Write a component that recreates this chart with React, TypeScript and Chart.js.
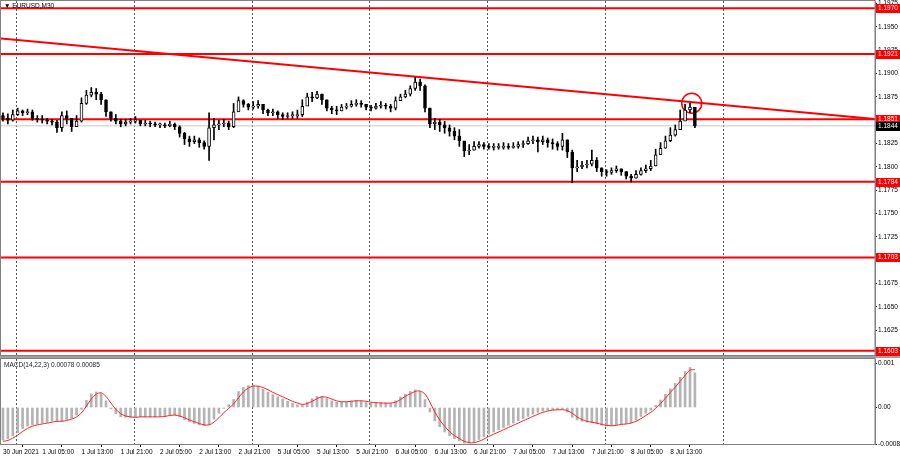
import { useEffect, useRef } from "react";
import { Chart, registerables } from "chart.js";
Chart.register(...registerables);

// ---- price data (H1 candles, x in M30 slots) ----
const FIRST_OPEN = 1.1855;
const closes = [
  1.1852, 1.1850, 1.1856, 1.1860, 1.1858, 1.1859, 1.1852, 1.1851, 1.1850, 1.1849,
  1.1848, 1.1842, 1.1855, 1.1852, 1.1843, 1.1849, 1.1868, 1.1877, 1.1880, 1.1878,
  1.1872, 1.1859, 1.1852, 1.1849, 1.1846, 1.1848, 1.1849, 1.1850, 1.1846, 1.1847,
  1.1846, 1.1845, 1.1845, 1.1844, 1.1846, 1.1843, 1.1836, 1.1830, 1.1827, 1.1829,
  1.1826, 1.1822, 1.1842, 1.1845, 1.1846, 1.1847, 1.1843, 1.1859, 1.1871, 1.1867,
  1.1864, 1.1865, 1.1867, 1.1861, 1.1858, 1.1859, 1.1856, 1.1854, 1.1855, 1.1855,
  1.1856, 1.1865, 1.1875, 1.1874, 1.1878, 1.1872, 1.1863, 1.1861, 1.1860, 1.1864,
  1.1865, 1.1867, 1.1868, 1.1867, 1.1864, 1.1863, 1.1865, 1.1866, 1.1865, 1.1863,
  1.1871, 1.1875, 1.1878, 1.1884, 1.1891, 1.1887, 1.1863, 1.1846, 1.1848, 1.1845,
  1.1842, 1.1838, 1.1833, 1.1828, 1.1817, 1.1818, 1.1822, 1.1824, 1.1822, 1.1821,
  1.1821, 1.1821, 1.1822, 1.1821, 1.1822, 1.1824, 1.1825, 1.1828, 1.1829, 1.1827,
  1.1829, 1.1826, 1.1825, 1.1822, 1.1829, 1.1816, 1.1799, 1.1800, 1.1802, 1.1803,
  1.1807, 1.1799, 1.1795, 1.1794, 1.1796, 1.1798, 1.1795, 1.1790, 1.1788, 1.1792,
  1.1796, 1.1798, 1.1801, 1.1813, 1.1820, 1.1828, 1.1834, 1.1840, 1.1849, 1.1861,
  1.1864, 1.1844,
];
const highs = [
  1.1858, 1.1857, 1.1861, 1.1863, 1.1861, 1.1862, 1.1861, 1.1855, 1.1855, 1.1852,
  1.1851, 1.1850, 1.1859, 1.1860, 1.1852, 1.1855, 1.1874, 1.1882, 1.1885, 1.1884,
  1.1880, 1.1872, 1.1859, 1.1856, 1.1851, 1.1851, 1.1852, 1.1854, 1.1850, 1.1850,
  1.1849, 1.1848, 1.1847, 1.1847, 1.1849, 1.1847, 1.1844, 1.1837, 1.1833, 1.1833,
  1.1831, 1.1828, 1.1858, 1.1852, 1.1850, 1.1851, 1.1849, 1.1868, 1.1875, 1.1872,
  1.1868, 1.1870, 1.1871, 1.1867, 1.1862, 1.1862, 1.1860, 1.1858, 1.1858, 1.1859,
  1.1861, 1.1872, 1.1879, 1.1880, 1.1881, 1.1878, 1.1872, 1.1865, 1.1865, 1.1867,
  1.1868, 1.1871, 1.1872, 1.1871, 1.1867, 1.1866, 1.1868, 1.1870, 1.1868, 1.1867,
  1.1875, 1.1878, 1.1882, 1.1887, 1.1896, 1.1894, 1.1888, 1.1863, 1.1852, 1.1851,
  1.1849, 1.1845, 1.1842, 1.1840, 1.1827, 1.1824, 1.1827, 1.1827, 1.1826, 1.1825,
  1.1825, 1.1825, 1.1826, 1.1825, 1.1826, 1.1827, 1.1828, 1.1832, 1.1833, 1.1832,
  1.1833, 1.1831, 1.1830, 1.1827, 1.1836, 1.1829, 1.1818, 1.1807, 1.1806, 1.1807,
  1.1818, 1.1810, 1.1799, 1.1797, 1.1799, 1.1801, 1.1798, 1.1795, 1.1792, 1.1796,
  1.1799, 1.1802, 1.1807, 1.1819, 1.1826, 1.1833, 1.1842, 1.1845, 1.1861, 1.1867,
  1.1868, 1.1863,
];
const lows = [
  1.1849, 1.1846, 1.1849, 1.1855, 1.1855, 1.1856, 1.1850, 1.1848, 1.1847, 1.1846,
  1.1845, 1.1837, 1.1838, 1.1846, 1.1838, 1.1844, 1.1848, 1.1867, 1.1875, 1.1872,
  1.1867, 1.1854, 1.1849, 1.1846, 1.1843, 1.1844, 1.1846, 1.1847, 1.1844, 1.1844,
  1.1843, 1.1843, 1.1842, 1.1842, 1.1843, 1.1840, 1.1832, 1.1824, 1.1822, 1.1825,
  1.1821, 1.1819, 1.1807, 1.1829, 1.1840, 1.1843, 1.1840, 1.1842, 1.1863, 1.1864,
  1.1861, 1.1862, 1.1863, 1.1857, 1.1855, 1.1855, 1.1852, 1.1851, 1.1852, 1.1852,
  1.1852, 1.1854, 1.1867, 1.1870, 1.1873, 1.1867, 1.1860, 1.1857, 1.1856, 1.1860,
  1.1862, 1.1864, 1.1865, 1.1864, 1.1861, 1.1860, 1.1862, 1.1863, 1.1862, 1.1859,
  1.1861, 1.1871, 1.1874, 1.1876, 1.1882, 1.1882, 1.1859, 1.1842, 1.1840, 1.1838,
  1.1836, 1.1833, 1.1829, 1.1822, 1.1811, 1.1813, 1.1818, 1.1820, 1.1819, 1.1819,
  1.1818, 1.1819, 1.1819, 1.1819, 1.1820, 1.1820, 1.1821, 1.1824, 1.1825, 1.1816,
  1.1824, 1.1821, 1.1819, 1.1818, 1.1818, 1.1810, 1.1783, 1.1795, 1.1798, 1.1799,
  1.1801, 1.1795, 1.1790, 1.1790, 1.1792, 1.1794, 1.1791, 1.1787, 1.1784, 1.1788,
  1.1791, 1.1794, 1.1796, 1.1801, 1.1815, 1.1820, 1.1827, 1.1833, 1.1843, 1.1852,
  1.1858, 1.1842,
];

// ---- MACD(14,22,3) ----
const macdMain = [
  -0.00073, -0.00070, -0.00064, -0.00056, -0.00047, -0.00042, -0.00039, -0.00037, -0.00035, -0.00033,
  -0.00030, -0.00030, -0.00031, -0.00027, -0.00024, -0.00017, -0.00004, 0.00016, 0.00031, 0.00035,
  0.00031, 0.00015, -0.00003, -0.00014, -0.00021, -0.00022, -0.00022, -0.00022, -0.00021, -0.00021,
  -0.00021, -0.00021, -0.00020, -0.00019, -0.00017, -0.00017, -0.00021, -0.00027, -0.00032, -0.00036,
  -0.00039, -0.00041, -0.00038, -0.00026, -0.00013, -0.00002, 0.00006, 0.00018, 0.00036, 0.00045,
  0.00049, 0.00050, 0.00047, 0.00041, 0.00034, 0.00029, 0.00024, 0.00019, 0.00014, 0.00010,
  0.00006, 0.00006, 0.00012, 0.00020, 0.00025, 0.00025, 0.00020, 0.00015, 0.00012, 0.00012,
  0.00013, 0.00015, 0.00016, 0.00015, 0.00012, 0.00010, 0.00010, 0.00011, 0.00010, 0.00009,
  0.00015, 0.00024, 0.00030, 0.00036, 0.00040, 0.00036, 0.00018, -0.00010, -0.00030, -0.00043,
  -0.00055, -0.00063, -0.00070, -0.00075, -0.00080, -0.00080, -0.00077, -0.00072, -0.00066, -0.00060,
  -0.00055, -0.00050, -0.00045, -0.00040, -0.00035, -0.00030, -0.00025, -0.00020, -0.00015, -0.00011,
  -0.00008, -0.00006, -0.00005, -0.00005, -0.00004, -0.00010, -0.00022, -0.00028, -0.00031, -0.00033,
  -0.00034, -0.00037, -0.00040, -0.00042, -0.00041, -0.00039, -0.00037, -0.00036, -0.00034, -0.00028,
  -0.00020, -0.00013, -0.00006, 0.00005, 0.00017, 0.00030, 0.00042, 0.00054, 0.00068, 0.00081,
  0.00090, 0.00078,
];
const macdSignal = [
  -0.00076, -0.00074, -0.00069, -0.00062, -0.00054, -0.00047, -0.00042, -0.00039, -0.00037, -0.00035,
  -0.00033, -0.00031, -0.00031, -0.00029, -0.00026, -0.00021, -0.00012, 0.00003, 0.00019, 0.00030,
  0.00033, 0.00025, 0.00010, -0.00004, -0.00014, -0.00019, -0.00021, -0.00022, -0.00021, -0.00021,
  -0.00021, -0.00021, -0.00021, -0.00020, -0.00018, -0.00017, -0.00019, -0.00023, -0.00028, -0.00032,
  -0.00036, -0.00039, -0.00039, -0.00033, -0.00023, -0.00012, -0.00002, 0.00008, 0.00022, 0.00035,
  0.00044, 0.00048, 0.00048, 0.00045, 0.00040, 0.00034, 0.00029, 0.00024, 0.00019, 0.00014,
  0.00010, 0.00007, 0.00009, 0.00014, 0.00020, 0.00024, 0.00023, 0.00019, 0.00015, 0.00013,
  0.00013, 0.00014, 0.00015, 0.00015, 0.00014, 0.00012, 0.00011, 0.00010, 0.00010, 0.00010,
  0.00012, 0.00018, 0.00025, 0.00031, 0.00036, 0.00037, 0.00030, 0.00012, -0.00010, -0.00028,
  -0.00042, -0.00054, -0.00063, -0.00070, -0.00076, -0.00079, -0.00079, -0.00076, -0.00071, -0.00065,
  -0.00060, -0.00055, -0.00050, -0.00045, -0.00040, -0.00035, -0.00030, -0.00025, -0.00020, -0.00015,
  -0.00011, -0.00008, -0.00006, -0.00005, -0.00005, -0.00007, -0.00013, -0.00021, -0.00027, -0.00031,
  -0.00033, -0.00035, -0.00038, -0.00040, -0.00041, -0.00040, -0.00038, -0.00037, -0.00035, -0.00031,
  -0.00025, -0.00018, -0.00011, -0.00002, 0.00009, 0.00021, 0.00034, 0.00046, 0.00059, 0.00072,
  0.00084, 0.00085,
];

// ---- levels, axes, labels ----
const levelPrices = [1.197, 1.1921, 1.1851, 1.1784, 1.1703, 1.1603];
const levelLabels = ["1.1970", "1.1921", "1.1851", "1.1784", "1.1703", "1.1603"];
const bidPrice = 1.1844;
const bidLabel = "1.1844";
const trendPrices = [1.19376, 1.18514];
const circlePoint = { slot: 280.7, price: 1.18682 };
const priceTicks = [1.16, 1.1625, 1.165, 1.1675, 1.17, 1.1725, 1.175, 1.1775, 1.18, 1.1825, 1.185, 1.1875, 1.19, 1.1925, 1.195, 1.1975];
const macdTicks = [-0.00082, 0, 0.001];
const macdTickLabels = ["-0.00082", "0.00", "0.001"];
const timeLabels = [
  "30 Jun 2021", "1 Jul 05:00", "1 Jul 13:00", "1 Jul 21:00", "2 Jul 05:00", "2 Jul 13:00",
  "2 Jul 21:00", "5 Jul 05:00", "5 Jul 13:00", "5 Jul 21:00", "6 Jul 05:00", "6 Jul 13:00",
  "6 Jul 21:00", "7 Jul 05:00", "7 Jul 13:00", "7 Jul 21:00", "8 Jul 05:00", "8 Jul 13:00",
];
const gridSlots = [5.3, 53.3, 101.3, 149.3, 197.3, 245.3, 293.3];
const TITLE = "▼ EURUSD,M30";
const MACD_TITLE = "MACD(14,22,3) 0.00078 0.00085";

const X_MIN = -0.8;
const X_MAX = 355.4;
const FONT = "Liberation Sans, Arial, sans-serif";
const FS = 6.5;

const zeroPad = (s: any) => {
  s.paddingTop = 0;
  s.paddingBottom = 0;
  s.paddingLeft = 0;
  s.paddingRight = 0;
};

const vGridPlugin = {
  id: "vgrid",
  beforeDatasetsDraw(chart: any) {
    const { ctx, chartArea, scales } = chart;
    ctx.save();
    ctx.strokeStyle = "#555";
    ctx.lineWidth = 1;
    ctx.setLineDash([2, 2]);
    gridSlots.forEach((s) => {
      const x = Math.round(scales.x.getPixelForValue(s)) + 0.5;
      ctx.beginPath();
      ctx.moveTo(x, chartArea.top);
      ctx.lineTo(x, chartArea.bottom);
      ctx.stroke();
    });
    ctx.restore();
  },
};

const framePlugin = {
  id: "frame",
  afterDraw(chart: any) {
    const { ctx, chartArea } = chart;
    ctx.save();
    ctx.strokeStyle = "#808080";
    ctx.lineWidth = 1;
    ctx.strokeRect(0.5, chartArea.top - 0.5, chartArea.right - 0.5, chartArea.bottom - chartArea.top + 1);
    ctx.restore();
  },
};

function MainChart() {
  const ref = useRef<HTMLCanvasElement | null>(null);
  useEffect(() => {
    const opens = closes.map((_, i) => (i === 0 ? FIRST_OPEN : closes[i - 1]));
    const wicks = closes.map((_, i) => ({ x: i * 2, y: [lows[i], highs[i]] }));
    const bodies = closes.map((c, i) => ({ x: i * 2, y: [opens[i], c] }));
    const hline = (p: number) => [
      { x: X_MIN, y: p },
      { x: X_MAX, y: p },
    ];
    const labelPlugin = {
      id: "labels",
      afterDraw(chart: any) {
        const { ctx, chartArea, scales } = chart;
        ctx.save();
        ctx.font = `${FS}px ${FONT}`;
        ctx.textBaseline = "middle";
        const drawTag = (p: number, txt: string, bg: string) => {
          const y = Math.round(scales.y.getPixelForValue(p));
          ctx.fillStyle = bg;
          ctx.fillRect(chartArea.right + 1, y - 4, 24, 9);
          ctx.fillStyle = "#fff";
          ctx.textAlign = "left";
          ctx.fillText(txt, chartArea.right + 3, y + 0.5);
        };
        levelPrices.forEach((p, i) => drawTag(p, levelLabels[i], "#ff0000"));
        drawTag(bidPrice, bidLabel, "#000");
        ctx.fillStyle = "#000";
        ctx.textAlign = "left";
        ctx.fillText(TITLE, 4, 6);
        ctx.restore();
      },
    };
    const chart = new Chart(ref.current!, {
      type: "bar",
      data: {
        datasets: [
          {
            type: "bar",
            data: bodies as any,
            barThickness: 3,
            grouped: false,
            minBarLength: 1,
            borderSkipped: false,
            borderWidth: 1,
            borderColor: "#000",
            backgroundColor: (c: any) => {
              const i = c.dataIndex;
              return closes[i] >= opens[i] ? "#fff" : "#000";
            },
            order: 0,
          } as any,
          {
            type: "bar",
            data: wicks as any,
            barThickness: 1,
            grouped: false,
            backgroundColor: "#000",
            order: 1,
          } as any,
          {
            type: "line",
            data: [
              { x: X_MIN, y: trendPrices[0] },
              { x: X_MAX, y: trendPrices[1] },
            ],
            borderColor: "#ff0000",
            borderWidth: 2,
            pointRadius: 0,
            order: 3,
          },
          ...levelPrices.map((p) => ({
            type: "line" as const,
            data: hline(p),
            borderColor: "#ff0000",
            borderWidth: 2,
            pointRadius: 0,
            order: 4,
          })),
          {
            type: "line",
            data: hline(bidPrice),
            borderColor: "#c8c8c8",
            borderWidth: 1,
            pointRadius: 0,
            order: 5,
          },
          {
            type: "line",
            data: [{ x: circlePoint.slot, y: circlePoint.price }],
            showLine: false,
            pointRadius: 10,
            pointBorderWidth: 1.5,
            pointBorderColor: "#ff0000",
            pointBackgroundColor: "rgba(0,0,0,0)",
            order: 2,
          },
        ] as any,
      },
      options: {
        responsive: false,
        animation: false,
        events: [],
        layout: { autoPadding: false, padding: { left: 1, top: 1, right: 0, bottom: 1 } },
        plugins: { legend: { display: false }, tooltip: { enabled: false } },
        scales: {
          x: { type: "linear", min: X_MIN, max: X_MAX, display: false, offset: false },
          y: {
            position: "right",
            min: 1.15984,
            max: 1.19778,
            afterFit: (s: any) => {
              s.width = 25;
              zeroPad(s);
            },
            afterBuildTicks: (s: any) => {
              s.ticks = priceTicks.map((v) => ({ value: v }));
            },
            border: { display: true, color: "#808080" },
            grid: { drawOnChartArea: false, drawTicks: true, tickLength: 2, tickColor: "#000" },
            ticks: {
              autoSkip: false,
              padding: 1,
              color: "#000",
              font: { family: FONT, size: FS },
              callback: (v: any) => Number(v).toFixed(4),
            },
          },
        },
      } as any,
      plugins: [vGridPlugin, framePlugin, labelPlugin],
    });
    return () => chart.destroy();
  }, []);
  return <canvas ref={ref} width={900} height={356} style={{ position: "absolute", left: 0, top: 0 }} />;
}

function MacdChart() {
  const ref = useRef<HTMLCanvasElement | null>(null);
  useEffect(() => {
    const titlePlugin = {
      id: "mtitle",
      afterDraw(chart: any) {
        const { ctx } = chart;
        ctx.save();
        ctx.font = `${FS}px ${FONT}`;
        ctx.fillStyle = "#222";
        ctx.textBaseline = "middle";
        ctx.textAlign = "left";
        ctx.fillText(MACD_TITLE, 4, 7);
        ctx.restore();
      },
    };
    const chart = new Chart(ref.current!, {
      type: "bar",
      data: {
        datasets: [
          {
            type: "line",
            data: macdSignal.map((v, i) => ({ x: i * 2, y: v })),
            borderColor: "#ff2020",
            borderWidth: 1,
            pointRadius: 0,
            tension: 0.3,
            order: 0,
          },
          {
            type: "bar",
            data: macdMain.map((v, i) => ({ x: i * 2, y: v })),
            barThickness: 2,
            grouped: false,
            backgroundColor: "#b4b4b4",
            order: 1,
          } as any,
        ] as any,
      },
      options: {
        responsive: false,
        animation: false,
        events: [],
        layout: { autoPadding: false, padding: { left: 1, top: 1, right: 0, bottom: 0 } },
        plugins: { legend: { display: false }, tooltip: { enabled: false } },
        scales: {
          x: {
            type: "linear",
            min: X_MIN,
            max: X_MAX,
            offset: false,
            afterFit: (s: any) => {
              s.height = 16;
              zeroPad(s);
            },
            afterBuildTicks: (s: any) => {
              s.ticks = timeLabels.map((_, i) => ({ value: i * 16 }));
            },
            border: { display: true, color: "#808080" },
            grid: { drawOnChartArea: false, drawTicks: true, tickLength: 3, tickColor: "#000" },
            ticks: {
              autoSkip: false,
              maxRotation: 0,
              align: "start",
              padding: 1,
              color: "#000",
              font: { family: FONT, size: FS },
              callback: (_v: any, i: number) => timeLabels[i],
            },
          },
          y: {
            position: "right",
            min: -0.00082,
            max: 0.00109,
            afterFit: (s: any) => {
              s.width = 25;
              zeroPad(s);
            },
            afterBuildTicks: (s: any) => {
              s.ticks = macdTicks.map((v) => ({ value: v }));
            },
            border: { display: true, color: "#808080" },
            grid: { drawOnChartArea: false, drawTicks: true, tickLength: 2, tickColor: "#000" },
            ticks: {
              autoSkip: false,
              padding: 1,
              color: "#000",
              font: { family: FONT, size: FS },
              callback: (_v: any, i: number) => macdTickLabels[i],
            },
          },
        },
      } as any,
      plugins: [vGridPlugin, framePlugin, titlePlugin],
    });
    return () => chart.destroy();
  }, []);
  return <canvas ref={ref} width={900} height={102} style={{ position: "absolute", left: 0, top: 358 }} />;
}

export default function App() {
  return (
    <div style={{ position: "fixed", left: 0, top: 0, width: 900, height: 460, background: "#fff", overflow: "hidden" }}>
      <MainChart />
      <div style={{ position: "absolute", left: 0, top: 356, width: 900, height: 2, background: "#a0a0a0" }} />
      <MacdChart />
    </div>
  );
}
